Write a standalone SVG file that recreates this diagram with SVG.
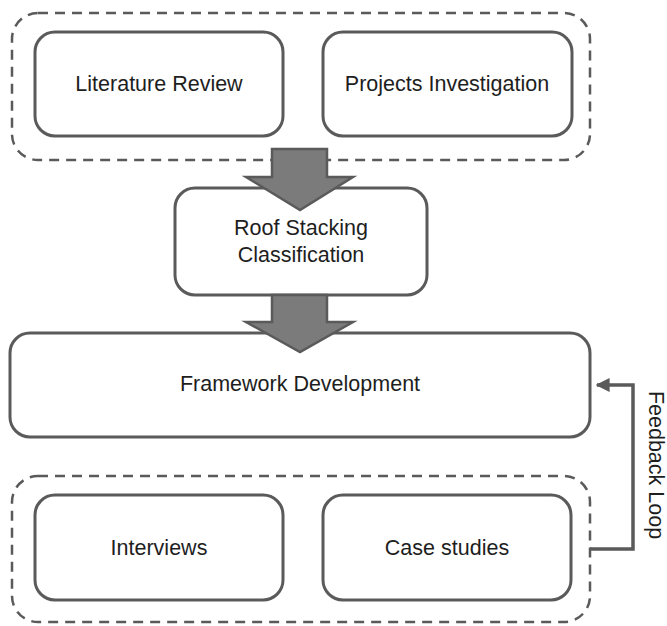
<svg xmlns="http://www.w3.org/2000/svg" width="667" height="626" viewBox="0 0 667 626">
<style>
.grp{fill:none;stroke:#5a5a5a;stroke-width:2.5;stroke-dasharray:10 7}
.box{fill:#fff;stroke:#5a5a5a;stroke-width:3}
.big{fill:#7b7b7b;stroke:#5a5a5a;stroke-width:2.5;stroke-linejoin:miter}
.t{font-family:"Liberation Sans",Arial,sans-serif;font-size:21.5px;fill:#1e1e1e;text-anchor:middle}
.ln{fill:none;stroke:#5a5a5a;stroke-width:3.5}
</style>
<defs>
<marker id="ah" viewBox="0 0 10 10" refX="9" refY="5" markerWidth="4" markerHeight="4" orient="auto" markerUnits="strokeWidth">
<path d="M0,0 L10,5 L0,10 z" fill="#5a5a5a"/>
</marker>
</defs>
<g id="group-top"><rect class="grp" x="12" y="13" width="578" height="147" rx="26"/></g>
<g id="group-bottom"><rect class="grp" x="12" y="476" width="578" height="146" rx="26"/></g>
<g id="literature-review"><rect class="box" x="35" y="32" width="248" height="104" rx="20"/><text class="t" x="159" y="91">Literature Review</text></g>
<g id="projects-investigation"><rect class="box" x="323" y="32" width="249" height="104" rx="20"/><text class="t" x="447" y="91">Projects Investigation</text></g>
<g id="roof-stacking"><rect class="box" x="175" y="188" width="252" height="107" rx="20"/><text class="t" x="301" y="235">Roof Stacking</text><text class="t" x="301" y="262">Classification</text></g>
<g id="framework"><rect class="box" x="10" y="333" width="580" height="104" rx="20"/><text class="t" x="300" y="391">Framework Development</text></g>
<g id="interviews"><rect class="box" x="35" y="495" width="248" height="105" rx="20"/><text class="t" x="159" y="555">Interviews</text></g>
<g id="case-studies"><rect class="box" x="323" y="495" width="248" height="105" rx="20"/><text class="t" x="447" y="555">Case studies</text></g>
<g id="connectors">
<path class="big" d="M272,149 H327 V177 H353 L300,210 L246,177 H272 Z"/>
<path class="big" d="M272,295 H327 V322 H353 L300,352 L246,322 H272 Z"/>
<path class="ln" d="M590,549 H633 V385 H597" marker-end="url(#ah)"/>
</g>
<text class="t" transform="translate(649,465) rotate(90)" x="0" y="0">Feedback Loop</text>
</svg>
